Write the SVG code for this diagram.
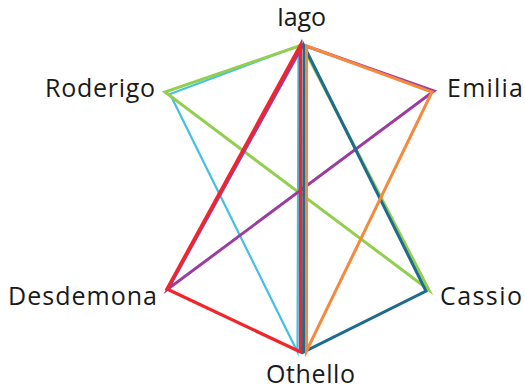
<svg xmlns="http://www.w3.org/2000/svg" width="525" height="390" viewBox="0 0 525 390">
<style>
.lbl{font-family:"Open Sans","Liberation Sans",sans-serif;font-size:25px;fill:#1a1a1a}
.e{fill:none;stroke-width:3;stroke-linejoin:miter;stroke-miterlimit:10}
.lb{stroke:#45bfe6;stroke-width:2.2}
.gr{stroke:#92cf4e}
.tl{stroke:#1f6b8e}
.or{stroke:#f58a3e}
.pu{stroke:#9c3c9e}
.rd{stroke:#f0262b;stroke-width:3.3}
</style>
<rect width="525" height="390" fill="#fff"/>
<g id="connectors">
<polygon class="e lb" points="298.5,46 170,94 297.5,352"/>
<polygon class="e gr" points="302,45 165,92 429,290"/>
<polygon class="e pu" points="303,45 434,91 168,289"/>
<polygon class="e tl" points="304,46 426,291 303.5,352"/>
<polygon class="e or" points="306.5,46 432,92 306.5,351"/>
<polygon class="e rd" points="300.5,45 167,289 300.5,352"/>
</g>
<g id="iago"><text class="lbl" x="277" y="26" textLength="49">Iago</text></g>
<g id="roderigo"><text class="lbl" x="45" y="97" textLength="110">Roderigo</text></g>
<g id="emilia"><text class="lbl" x="447" y="97" textLength="76">Emilia</text></g>
<g id="desdemona"><text class="lbl" x="8" y="305" textLength="149">Desdemona</text></g>
<g id="cassio"><text class="lbl" x="440" y="305" textLength="82">Cassio</text></g>
<g id="othello"><text class="lbl" x="266" y="383" textLength="89">Othello</text></g>
</svg>
